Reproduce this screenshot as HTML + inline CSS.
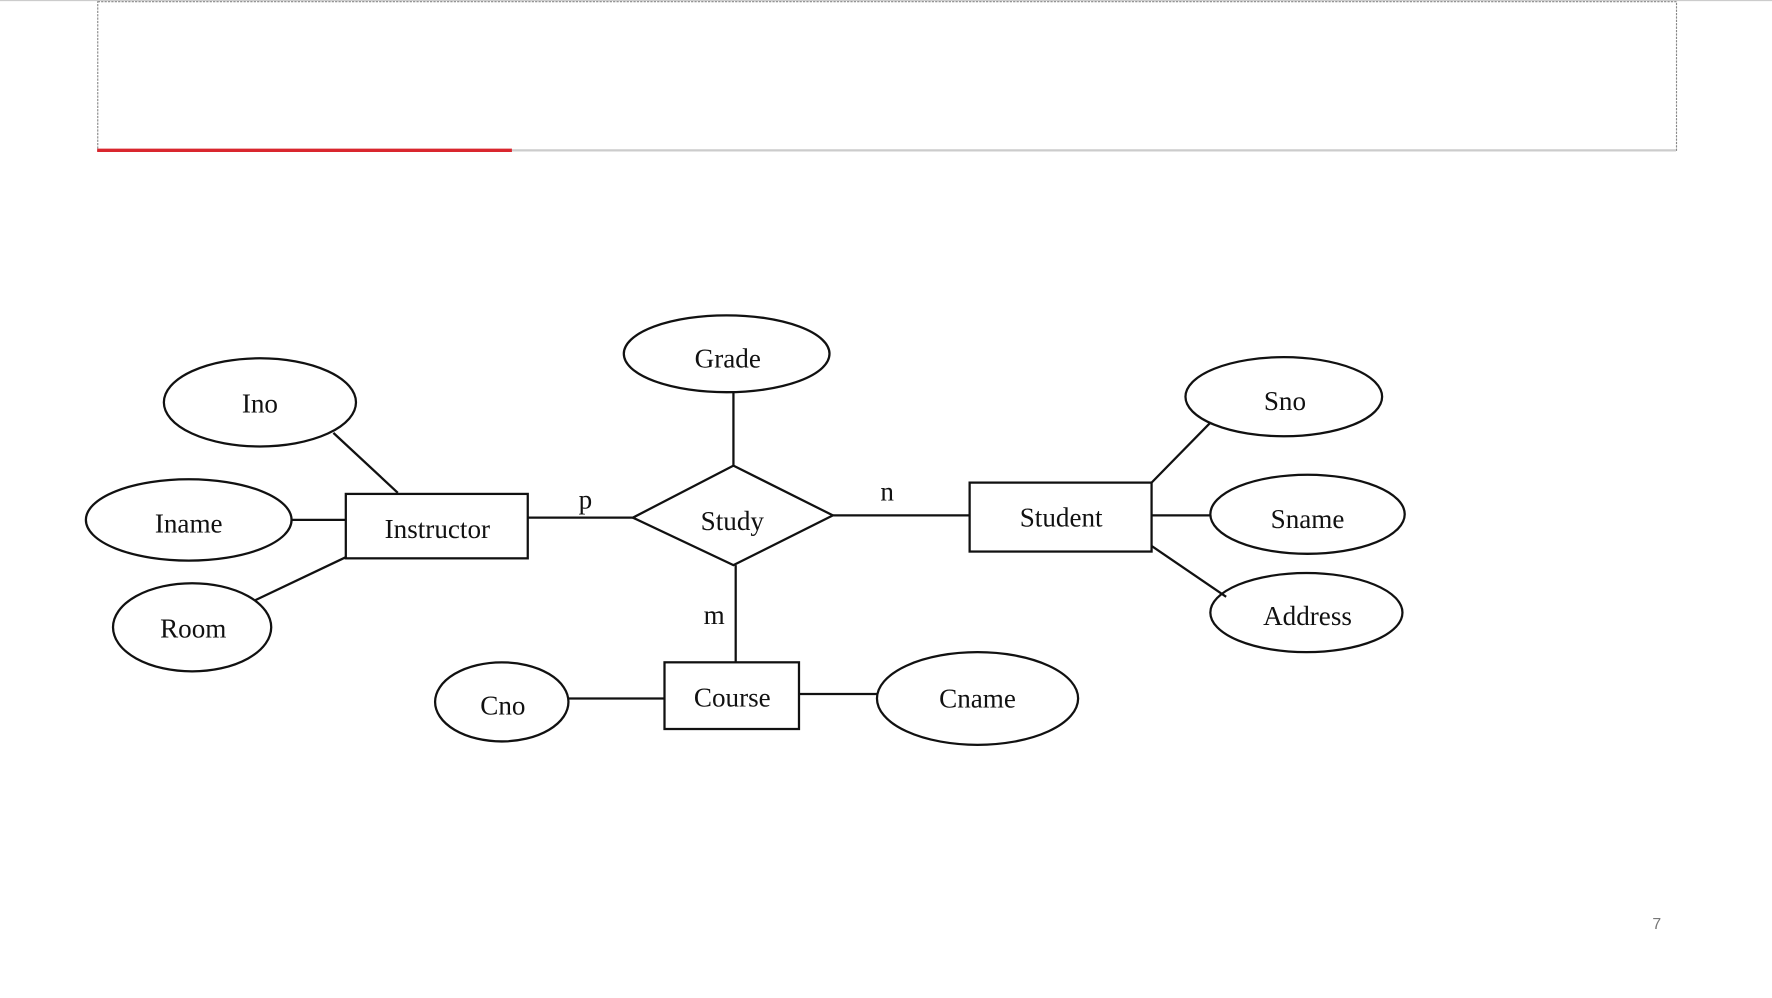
<!DOCTYPE html>
<html><head><meta charset="utf-8"><style>
html,body{margin:0;padding:0;background:#fff;width:1772px;height:998px;overflow:hidden}
svg{display:block}
text{font-family:"Liberation Serif",serif;font-size:24px;fill:#111;text-anchor:middle;dominant-baseline:central}
</style></head><body>
<svg width="1772" height="998" viewBox="0 0 1568 883" preserveAspectRatio="none">
<line x1="0" y1="0.5" x2="1568" y2="0.5" stroke="#ccc" stroke-width="1"/>
<rect x="86.5" y="1.5" width="1397" height="132" fill="none" stroke="#888" stroke-width="1" stroke-dasharray="2,1"/>
<line x1="86" y1="133" x2="453" y2="133" stroke="#d9262e" stroke-width="3"/>
<line x1="453" y1="133" x2="1483" y2="133" stroke="#ccc" stroke-width="2"/>
<g stroke="#111" stroke-width="2" fill="none">
<line x1="295" y1="383" x2="352" y2="436"/>
<line x1="258" y1="460" x2="306" y2="460"/>
<line x1="226" y1="531" x2="306" y2="493"/>
<line x1="467" y1="458" x2="560" y2="458"/>
<line x1="649" y1="347" x2="649" y2="412"/>
<line x1="737" y1="456" x2="858" y2="456"/>
<line x1="651" y1="500" x2="651" y2="586"/>
<line x1="503" y1="618" x2="588" y2="618"/>
<line x1="707" y1="614" x2="777" y2="614"/>
<line x1="1019" y1="427" x2="1071" y2="374"/>
<line x1="1019" y1="456" x2="1071" y2="456"/>
<line x1="1019" y1="483" x2="1085" y2="528"/>
<ellipse cx="230" cy="356" rx="85" ry="39"/>
<ellipse cx="167" cy="460" rx="91" ry="36"/>
<ellipse cx="170" cy="555" rx="70" ry="39"/>
<ellipse cx="643" cy="313" rx="91" ry="34"/>
<ellipse cx="444" cy="621" rx="59" ry="35"/>
<ellipse cx="865" cy="618" rx="89" ry="41"/>
<ellipse cx="1136" cy="351" rx="87" ry="35"/>
<ellipse cx="1157" cy="455" rx="86" ry="35"/>
<ellipse cx="1156" cy="542" rx="85" ry="35"/>
<rect x="306" y="437" width="161" height="57"/>
<rect x="858" y="427" width="161" height="61"/>
<rect x="588" y="586" width="119" height="59"/>
<polygon points="560,458 649,412 737,456 649,500"/>
</g>
<text x="230" y="357">Ino</text>
<text x="167" y="463">Iname</text>
<text x="171" y="556">Room</text>
<text x="644" y="317">Grade</text>
<text x="387" y="468">Instructor</text>
<text x="648" y="461">Study</text>
<text x="939" y="458">Student</text>
<text x="648" y="617">Course</text>
<text x="445" y="624">Cno</text>
<text x="865" y="618">Cname</text>
<text x="1137" y="355">Sno</text>
<text x="1157" y="459">Sname</text>
<text x="1157" y="545">Address</text>
<text x="518" y="442">p</text>
<text x="785" y="435">n</text>
<text x="632" y="544">m</text>
<text x="1466" y="818" style="font-family:'Liberation Sans',sans-serif;font-size:14px;fill:#777">7</text>
</svg>
</body></html>
